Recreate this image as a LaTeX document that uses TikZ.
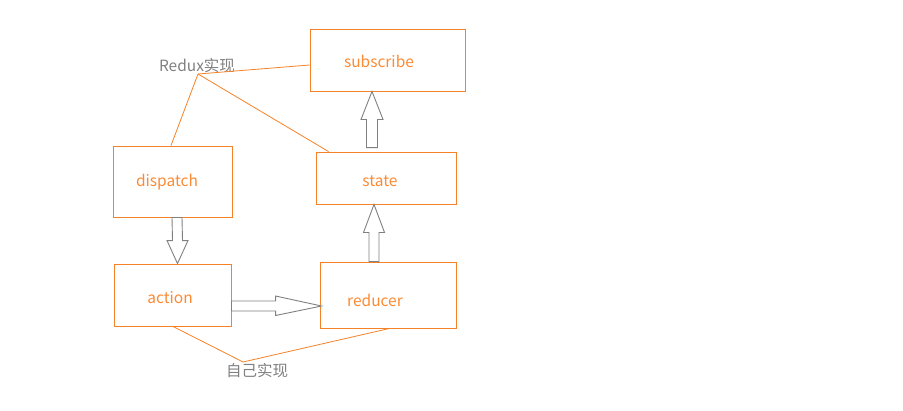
\documentclass[tikz,border=0pt]{standalone}
\usepackage{fontspec}
\setmainfont{Noto Sans CJK SC}
\usetikzlibrary{calc}
\definecolor{boxline}{RGB}{245,130,40}
\definecolor{boxtext}{RGB}{252,138,52}
\definecolor{lblgray}{RGB}{128,128,128}
\definecolor{arrgray}{RGB}{128,128,128}
\tikzset{
  box/.style={draw=boxline, line width=0.9pt, inner sep=0pt},
  boxlbl/.style={text=boxtext, font=\fontsize{15.5}{18}\selectfont},
  note/.style={text=lblgray, font=\fontsize{15.5}{18}\selectfont, inner sep=0pt},
  link/.style={draw=boxline, line width=0.8pt},
  blockarr/.style={draw=arrgray, line width=0.9pt, fill=white, line join=miter},
}
\begin{document}
\begin{tikzpicture}[x=1pt,y=-1pt]
\useasboundingbox (0,0) rectangle (903,410);
% boxes
\node[box, minimum width=155, minimum height=62] (subscribe) at (387.5,60) {};
\node[boxlbl] at (379,61) {subscribe};
\node[box, minimum width=119, minimum height=71] (dispatch) at (172.5,181.5) {};
\node[boxlbl] at (167,182) {dispatch};
\node[box, minimum width=140, minimum height=52] (state) at (386,178) {};
\node[boxlbl] at (380,181) {state};
\node[box, minimum width=117, minimum height=62] (action) at (172.5,295) {};
\node[boxlbl] at (170,298) {action};
\node[box, minimum width=136, minimum height=66] (reducer) at (388,295) {};
\node[boxlbl] at (375,300) {reducer};
% notes
\node[note] (redux) at (197,66) {Redux实现};
\node[note] (self) at (257,371) {自己实现};
\coordinate (rp) at (198,74);
\coordinate (sp) at (243,362);
% links
\draw[link] (rp) -- (subscribe.west |- 0,65);
\draw[link] (rp) -- ($(dispatch.north)+(-1.5,0)$);
\draw[link] (rp) -- ($(state.north west)+(13,0)$);
\draw[link] (sp) -- ($(action.south)+(0.5,0)$);
\draw[link] (sp) -- ($(reducer.south)+(1.5,0)$);
% block arrows
% dispatch -> action (down)
\coordinate (a1s) at ($(dispatch.south)+(4.5,0)$);
\coordinate (a1t) at ($(action.north)+(5,0)$);
\draw[blockarr] ($(a1s)+(-5,0)$) -- ($(a1t)+(-5,-23)$) -- ($(a1t)+(-10.5,-23)$) -- (a1t)
  -- ($(a1t)+(10.5,-23)$) -- ($(a1t)+(5,-23)$) -- ($(a1s)+(5,0)$) -- cycle;
% action -> reducer (right)
\coordinate (a2s) at ($(action.east)+(0,11)$);
\coordinate (a2t) at ($(reducer.west)+(2,11)$);
\draw[blockarr] ($(a2s)+(0,-5)$) -- ($(a2t)+(-46,-5)$) -- ($(a2t)+(-46,-10)$) -- (a2t)
  -- ($(a2t)+(-46,9.5)$) -- ($(a2t)+(-46,5)$) -- ($(a2s)+(0,5)$) -- cycle;
% reducer -> state (up)
\coordinate (a3s) at ($(reducer.north)+(-14,0)$);
\coordinate (a3t) at ($(state.south)+(-12,0)$);
\draw[blockarr] ($(a3s)+(-5,0)$) -- ($(a3t)+(-5,28)$) -- ($(a3t)+(-10.5,28)$) -- (a3t)
  -- ($(a3t)+(10.5,28)$) -- ($(a3t)+(5,28)$) -- ($(a3s)+(5,0)$) -- cycle;
% state -> subscribe (up)
\coordinate (a4s) at ($(state.north)+(-14,-4)$);
\coordinate (a4t) at ($(subscribe.south)+(-15.5,0)$);
\draw[blockarr] ($(a4s)+(-5.5,0)$) -- ($(a4t)+(-5.5,28)$) -- ($(a4t)+(-11,28)$) -- (a4t)
  -- ($(a4t)+(11,28)$) -- ($(a4t)+(5.5,28)$) -- ($(a4s)+(5.5,0)$) -- cycle;
\end{tikzpicture}
\end{document}
